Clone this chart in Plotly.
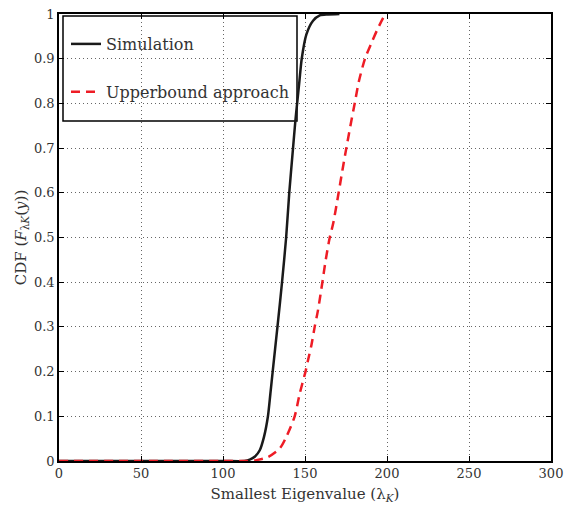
import plotly.graph_objects as go

# Simulation CDF (black solid)
sim_x = [0, 50, 100, 113, 116.3, 119.5, 122.4, 125, 127.4, 128.9, 130.3, 133.2, 136, 138.5,
         140.4, 142.7, 144.1, 145.2, 146.6, 148, 150.9, 154.9, 159, 164, 171]
sim_y = [0, 0, 0, 0, 0.003, 0.01, 0.024, 0.054, 0.1, 0.151, 0.2, 0.3, 0.4, 0.5,
         0.6, 0.7, 0.76, 0.8, 0.85, 0.9, 0.955, 0.985, 0.997, 0.999, 1.0]

# Upperbound approach CDF (red dashed)
ub_x = [0, 50, 100, 115, 120.3, 127.5, 134.6, 138.6, 143.7, 146.8, 150.3, 151.8, 153.9, 155.9,
        157.9, 160.6, 162.6, 165.1, 167.1, 170.5, 172.8, 175.2, 177.7, 180.3, 182.9, 186.6,
        190.5, 194.1, 198.6, 199.6]
ub_y = [0, 0, 0, 0, 0.002, 0.009, 0.028, 0.054, 0.1, 0.151, 0.2, 0.225, 0.259, 0.3,
        0.337, 0.4, 0.449, 0.5, 0.53, 0.6, 0.65, 0.7, 0.75, 0.8, 0.85, 0.9,
        0.935, 0.965, 0.997, 1.0]

x_ticks = [0, 50, 100, 150, 200, 250, 300]
y_ticks = [0, 0.1, 0.2, 0.3, 0.4, 0.5, 0.6, 0.7, 0.8, 0.9, 1]
y_tick_text = ["0", "0.1", "0.2", "0.3", "0.4", "0.5", "0.6", "0.7", "0.8", "0.9", "1"]

FONT = "DejaVu Serif"
TXT = "#333333"

fig = go.Figure()
fig.add_trace(go.Scatter(x=sim_x, y=sim_y, mode="lines", name="Simulation",
                         legendgroup="a",
                         line=dict(color="#1a1a1a", width=2.5, shape="spline", smoothing=0.7)))
fig.add_trace(go.Scatter(x=ub_x, y=ub_y, mode="lines", name="Upperbound approach",
                         legendgroup="b",
                         line=dict(color="#ee1c25", width=2.5, dash="9px,6px",
                                   shape="spline", smoothing=0.8)))

# page body has an 8px default margin; figure is sized so the plot lands in place
W, H = 571, 503
ml, mt = 51, 6
pw, ph = 492, 447
mr, mb = W - ml - pw, H - mt - ph
OFF = 8

def px2paper_x(px):
    return (px - OFF - ml) / pw

def px2paper_y(py):
    return (H - mb - (py - OFF)) / ph

axis_common = dict(
    showgrid=True, gridcolor="#666666", griddash="1px,3px", gridwidth=1,
    showline=True, linecolor="black", linewidth=1.5, mirror="ticks",
    ticks="inside", ticklen=5, tickcolor="black",
    zeroline=False, automargin=False, ticklabeloverflow="allow",
    tickfont=dict(family=FONT, size=13, color=TXT),
)

fig.update_layout(
    width=W, height=H,
    margin=dict(l=ml, r=mr, t=mt, b=mb, autoexpand=False),
    paper_bgcolor="white", plot_bgcolor="white",
    xaxis=dict(range=[0, 300], tickvals=x_ticks,
               title=dict(text="Smallest Eigenvalue (λ<sub><i>K</i></sub>)",
                          font=dict(family=FONT, size=15, color=TXT), standoff=8),
               **axis_common),
    yaxis=dict(range=[0, 1], tickvals=y_ticks, ticktext=y_tick_text,
               title=dict(text="CDF (<i>F</i><sub>λ<i>K</i></sub>(<i>y</i>))",
                          font=dict(family=FONT, size=15, color=TXT), standoff=4),
               **axis_common),
    legend=dict(x=px2paper_x(66), y=px2paper_y(27), xanchor="left", yanchor="top",
                bgcolor="rgba(0,0,0,0)", borderwidth=0,
                tracegroupgap=24,
                font=dict(family=FONT, size=16, color=TXT)),
    shapes=[dict(type="rect", xref="paper", yref="paper",
                 x0=px2paper_x(63), x1=px2paper_x(297),
                 y0=px2paper_y(121), y1=px2paper_y(16),
                 line=dict(color="black", width=1.5), fillcolor="white", layer="below")],
)

fig.write_html("out.html")
